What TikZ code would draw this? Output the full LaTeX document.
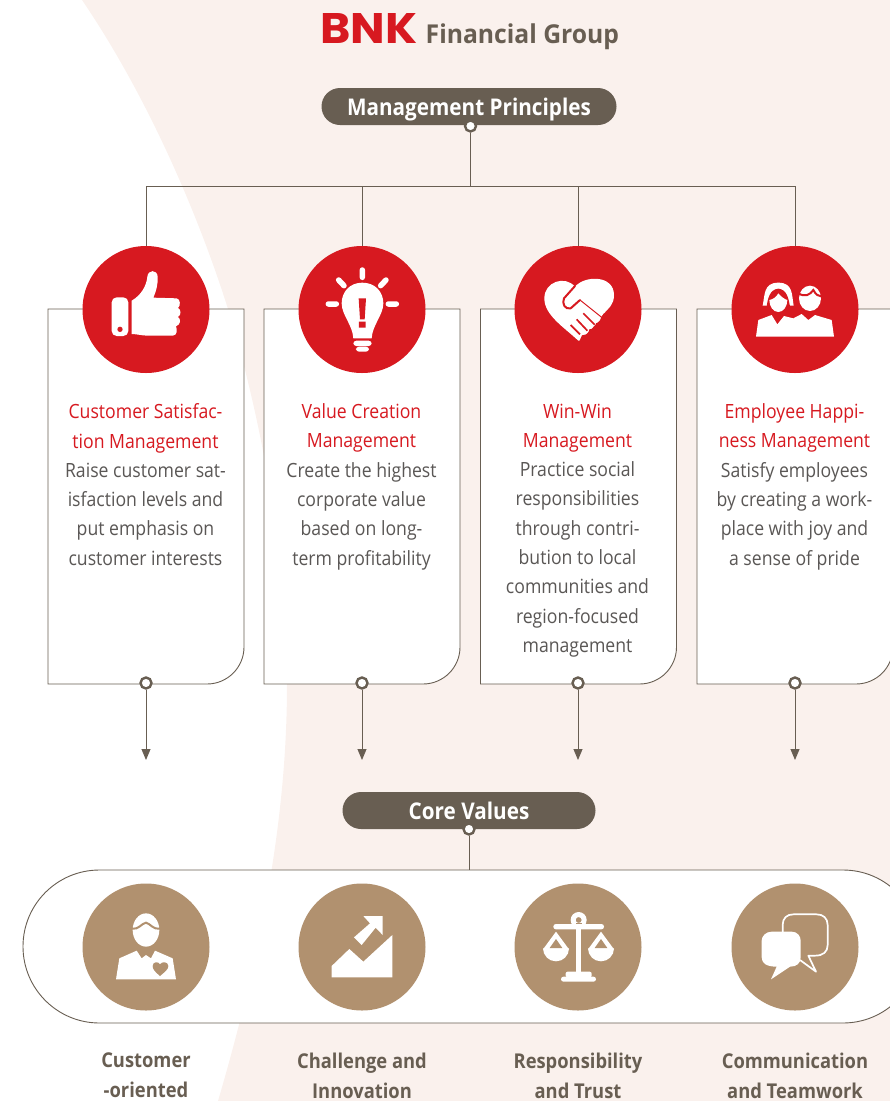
\documentclass[tikz,border=0pt]{standalone}
\usepackage{fontspec}
\usetikzlibrary{arrows.meta}
\setmainfont{Open Sans}[FakeStretch=0.9]
\newfontfamily\logofont{Open Sans}[FakeStretch=0.95]
\newfontfamily\markfont{Poppins}
\definecolor{peach}{HTML}{FAF1ED}
\definecolor{brownd}{HTML}{685E52}
\definecolor{redm}{HTML}{D71920}
\definecolor{tan}{HTML}{B1916F}
\definecolor{bodyc}{HTML}{5A5755}
\tikzset{
  link/.style={draw=brownd,line width=0.9pt},
  cardbox/.style={draw=brownd,line width=0.9pt,fill=white},
  hdr/.style={fill=brownd,rounded corners=18.5pt,inner sep=0pt,text=white,text height=19pt,text depth=2pt,font=\fontsize{23}{28}\selectfont\bfseries},
  dotc/.style={circle,draw=brownd,fill=white,line width=2.4pt,minimum size=11pt,inner sep=0pt},
  icon/.style={circle,minimum size=127pt,inner sep=0pt},
  body/.style={align=center,anchor=north,inner sep=0pt,text=bodyc,font=\fontsize{19.6}{29.3}\selectfont},
  lab/.style={align=center,anchor=north,inner sep=0pt,text=brownd,font=\fontsize{20.4}{29.3}\selectfont\bfseries},
  zr/.style={x=0.33333pt,y=-0.33333pt},
  tip/.style={-{Triangle[length=11pt,width=9pt]}}
}
\newcommand{\rt}[1]{\textcolor{redm}{#1}}
\begin{document}
\begin{tikzpicture}[x=1pt,y=-1pt]
\useasboundingbox (0,0) rectangle (890,1101);
\clip (0,0) rectangle (890,1101);
\fill[peach] (82,0) .. controls (150,100) and (200,220) .. (228,309) .. controls (262,420) and (287,560) .. (287,684) .. controls (287,800) and (268,930) .. (218,1101) -- (890,1101) -- (890,0) -- cycle;
% logo
\node[inner sep=0pt,anchor=west] (logo) at (320,28) {\resizebox{97pt}{30pt}{\textcolor{redm}{\markfont\bfseries BNK}}};
\node[inner sep=0pt,anchor=base west,text=brownd,font=\fontsize{26}{28}\logofont\bfseries] (fg) at (425.5,43) {Financial Group};
% header
\node[hdr,minimum width=295pt,minimum height=37pt] (mp) at (469,106.5) {Management Principles};
\coordinate (busL) at (146,186);
\coordinate (busM) at (470.5,186);
\coordinate (busR) at (795,186);
\node[dotc] (mpd) at (470.5,126) {};
\coordinate (c1) at (146,309.5);
\coordinate (c2) at (362,309.5);
\coordinate (c3) at (578,309.5);
\coordinate (c4) at (795,309.5);
\draw[link] (mpd) -- (busM);
\draw[link] (busL) -- (busR);
\draw[link] (busL) -- (c1);
\draw[link] (362,186) -- (c2);
\draw[link] (578,186) -- (c3);
\draw[link] (busR) -- (c4);
% cards
\foreach \x in {48,264,480.5,697}{
  \draw[cardbox] (\x,309) -- ++(196,0) -- ++(0,338) arc[start angle=0,end angle=90,x radius=37pt,y radius=-37pt] -- (\x,684) -- cycle;
}
\node[dotc] (d1) at (146,683) {};
\node[dotc] (d2) at (362,683) {};
\node[dotc] (d3) at (578,683) {};
\node[dotc] (d4) at (795,683) {};
\coordinate (a1) at (146,760);
\coordinate (a2) at (362,760);
\coordinate (a3) at (578,760);
\coordinate (a4) at (795,760);
\foreach \i in {1,2,3,4}{ \draw[link,tip,fill=brownd] (d\i) -- (a\i); }
% red circles
\node[icon,fill=redm] (r1) at (c1) {};
\node[icon,fill=redm] (r2) at (c2) {};
\node[icon,fill=redm] (r3) at (c3) {};
\node[icon,fill=redm] (r4) at (c4) {};
% thumb
\begin{scope}[shift={(70,240)},zr]
\fill[white,rounded corners=5pt] (125,172) rectangle (175,288);
\fill[redm] (150,268) circle[radius=8];
\fill[white] (185,182) .. controls (215,165) and (230,135) .. (232,110) .. controls (234,88) and (262,88) .. (263,110) .. controls (264,135) and (258,155) .. (250,173) -- (320,175) .. controls (332,177) and (332,198) .. (324,204) .. controls (334,208) and (334,226) .. (324,231) .. controls (333,236) and (333,254) .. (318,259) .. controls (322,268) and (322,287) .. (308,287) -- (235,287) .. controls (215,287) and (200,282) .. (185,282) -- cycle;
% bulb
\fill[white] (877,128) .. controls (915,128) and (940,155) .. (940,190) .. controls (940,225) and (907,255) .. (905,295) -- (850,295) .. controls (848,255) and (815,225) .. (815,190) .. controls (815,155) and (840,128) .. (877,128) -- cycle;
\fill[white,rounded corners=3pt] (850,302) rectangle (905,318);
\fill[white,rounded corners=3pt] (858,320) rectangle (897,335);
\draw[white,line width=5.5pt,line cap=round] (877,90) -- (877,112) (806,120) -- (822,137) (948,120) -- (932,137) (775,192) -- (799,192) (955,192) -- (979,192);
\fill[redm] (866,175) -- (888,175) -- (884,238) -- (870,238) -- cycle (867,245) rectangle (887,263);
\end{scope}
% heart handshake
\begin{scope}[shift={(500,240)},zr]
\fill[white] (235,302) .. controls (190,260) and (133,225) .. (133,175) .. controls (133,125) and (195,105) .. (225,140) .. controls (255,105) and (342,105) .. (342,165) .. controls (342,195) and (325,205) .. (310,222) -- (300,240) -- (240,302) -- cycle;
\draw[redm,line width=2pt,line join=round,line cap=round] (225,138) -- (192,175) .. controls (185,190) and (195,210) .. (212,205) -- (240,180);
\draw[redm,line width=1pt] (240,180) -- (305,232);
\draw[redm,line width=1.7pt] (212,255) -- (240,283) (230,238) -- (262,272) (250,220) -- (284,254);
\fill[redm] (312,220) -- (303,232) -- (301,245) -- (288,250) -- (285,265) -- (268,268) -- (264,282) -- (246,286) -- (238,304) -- (300,310) -- (350,250) -- cycle;
\end{scope}
% people
\begin{scope}[shift={(500,240)},zr]
\fill[white] (788,197) .. controls (795,165) and (790,128) .. (835,128) .. controls (880,128) and (875,165) .. (881,197) -- cycle;
\fill[redm] (800,200) .. controls (803,175) and (810,148) .. (835,146) .. controls (860,148) and (866,175) .. (870,200) -- cycle;
\fill[white] (808,180) .. controls (820,178) and (830,170) .. (835,160) .. controls (845,172) and (855,178) .. (862,180) .. controls (862,200) and (850,216) .. (835,216) .. controls (820,216) and (808,200) .. (808,180) -- cycle;
\fill[white] (930,175) ellipse[x radius=33,y radius=38];
\draw[redm,line width=2pt] (895,160) .. controls (915,172) and (930,165) .. (940,150) .. controls (948,165) and (955,168) .. (966,170);
\fill[white] (768,290) -- (775,240) -- (815,225) -- (832,253) -- (852,228) -- (880,235) -- (905,222) -- (925,240) -- (945,225) -- (995,240) -- (1002,290) -- cycle;
\end{scope}
% card texts
\node[body] (t1) at (145.5,403.5) {\rt{Customer Satisfac-}\\\rt{tion Management}\\Raise customer sat-\\isfaction levels and\\put emphasis on\\customer interests};
\node[body] (t2) at (361.5,403.5) {\rt{Value Creation}\\\rt{Management}\\Create the highest\\corporate value\\based on long-\\term profitability};
\node[body] (t3) at (577.5,403.5) {\rt{Win-Win}\\\rt{Management}\\Practice social\\responsibilities\\through contri-\\bution to local\\communities and\\region-focused\\management};
\node[body] (t4) at (794.5,403.5) {\rt{Employee Happi-}\\\rt{ness Management}\\Satisfy employees\\by creating a work-\\place with joy and\\a sense of pride};
% core values
\node[hdr,minimum width=253pt,minimum height=37pt] (cv) at (469,810.5) {Core Values};
\node[dotc] (cvd) at (469,829) {};
\coordinate (pilltop) at (469,870);
\draw[link] (cvd) -- (pilltop);
\draw[cardbox] (99.5,870) -- (843,870) arc[start angle=90,end angle=-90,radius=76.5pt] -- (99.5,1023) arc[start angle=-90,end angle=-270,radius=76.5pt] -- cycle;
\node[icon,fill=tan] (v1) at (146,947) {};
\node[icon,fill=tan] (v2) at (362,947) {};
\node[icon,fill=tan] (v3) at (578,947) {};
\node[icon,fill=tan] (v4) at (795,947) {};
\begin{scope}[shift={(70,880)},zr]
% customer
\fill[white] (228,150) ellipse[x radius=40,y radius=50];
\draw[tan,line width=2pt] (186,146) .. controls (205,150) and (215,130) .. (228,128) .. controls (240,130) and (250,150) .. (270,146);
\fill[white] (138,298) -- (148,235) -- (200,212) -- (215,235) -- (228,225) -- (243,235) -- (255,212) -- (308,235) -- (318,298) -- cycle;
\fill[tan] (270,288) .. controls (255,275) and (248,268) .. (248,258) .. controls (248,245) and (265,243) .. (270,253) .. controls (275,243) and (295,245) .. (295,258) .. controls (295,268) and (285,275) .. (270,288) -- cycle;
% challenge
\fill[white] (880,108) -- (938,108) -- (938,165) -- (917,143) -- (875,195) -- (852,172) -- (900,130) -- cycle;
\fill[white] (785,292) -- (785,258) -- (838,207) -- (880,245) -- (967,165) -- (967,292) -- cycle;
\end{scope}
\begin{scope}[shift={(500,880)},zr]
% scale
\fill[white] (228,130) rectangle (243,285);
\fill[white,even odd rule] (236,120) circle[radius=24] (236,120) circle[radius=9];
\fill[tan] (227,130) rectangle (245,132);
\fill[white,rounded corners=2.5pt] (160,132) rectangle (312,148);
\fill[white,rounded corners=2pt] (197,275) rectangle (275,292);
\fill[white,rounded corners=2.5pt] (183,290) rectangle (288,305);
\foreach \dx in {0,135}{
  \fill[white] (\dx+129,205) arc[start angle=180,end angle=0,radius=39] -- cycle;
  \fill[white] (\dx+168,155) -- (\dx+129,208) -- (\dx+207,208) -- cycle;
  \fill[tan] (\dx+168,177) -- (\dx+149,204) -- (\dx+187,204) -- cycle;
}
% speech
\draw[white,line width=1.7pt,line join=round] (848,160) -- (848,135) .. controls (848,115) and (860,103) .. (880,103) -- (950,103) .. controls (970,103) and (983,115) .. (983,135) -- (983,195) .. controls (983,215) and (970,227) .. (945,227) -- (925,227) -- (948,275) -- (900,240);
\fill[white] (815,155) -- (875,155) .. controls (892,155) and (902,168) .. (902,182) -- (902,232) .. controls (902,250) and (890,260) .. (870,260) -- (813,298) -- (830,260) .. controls (800,260) and (785,250) .. (785,232) -- (785,182) .. controls (785,168) and (798,155) .. (815,155) -- cycle;
\end{scope}
% labels
\node[lab] (l1) at (146,1053) {Customer\\-oriented};
\node[lab] (l2) at (362,1053) {Challenge and\\Innovation};
\node[lab] (l3) at (578,1053) {Responsibility\\and Trust};
\node[lab] (l4) at (795,1053) {Communication\\and Teamwork};
\end{tikzpicture}
\end{document}
